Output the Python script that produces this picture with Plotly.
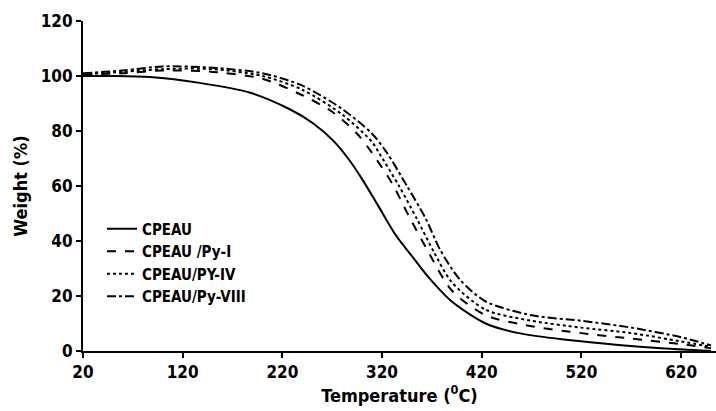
import plotly.graph_objects as go

# Temperature (°C) sample points
temp_cpeau = [20, 50, 87, 137, 187, 227, 250, 271, 288, 300, 315, 334, 350, 365, 390, 424, 457, 507, 557, 600, 650]
w_cpeau = [100, 100, 99.6, 97.5, 94, 88, 83, 76.5, 69, 62.5, 53.5, 42, 34.5, 27.5, 18, 10, 6.5, 4, 2.2, 1, 0]

temp_py1 = [20, 60, 100, 150, 200, 240, 270, 295, 310, 330, 347, 365, 390, 424, 470, 520, 570, 620, 650]
w_py1 = [100.5, 101, 102, 101.5, 99, 93, 87, 79, 72, 61, 49, 37, 22, 13, 9, 6.5, 4.5, 2.5, 1]

temp_py4 = [20, 60, 100, 150, 200, 240, 280, 310, 317, 337, 355, 372, 390, 424, 470, 520, 570, 620, 650]
w_py4 = [100.5, 101.5, 102.5, 102.5, 100, 95, 86, 76, 72, 60, 48, 36, 25, 15, 11, 8.5, 6.5, 3.5, 1.5]

temp_py8 = [20, 60, 100, 150, 200, 240, 280, 310, 325, 345, 364, 378, 398, 424, 470, 520, 570, 620, 650]
w_py8 = [101, 102, 103.5, 103, 101, 96.5, 88, 79, 72, 60, 48, 37, 26, 18, 13, 11, 8.5, 5, 2]

series_names = ["CPEAU", "CPEAU /Py-I", "CPEAU/PY-IV", "CPEAU/Py-VIII"]
x_ticks = [20, 120, 220, 320, 420, 520, 620]
y_ticks = [0, 20, 40, 60, 80, 100, 120]

FONT = "DejaVu Sans Condensed, Liberation Sans Narrow, Arial Narrow, Liberation Sans, sans-serif"

fig = go.Figure()
styles = ["solid", "dash", "dot", "dashdot"]
data = [(temp_cpeau, w_cpeau), (temp_py1, w_py1), (temp_py4, w_py4), (temp_py8, w_py8)]
for (xs, ys), name, dash in zip(data, series_names, styles):
    fig.add_trace(go.Scatter(
        x=xs, y=ys, mode="lines", name=name,
        line=dict(color="black", width=2, dash=dash, shape="spline", smoothing=0.8),
    ))

fig.update_layout(
    width=716, height=411,
    margin=dict(l=83, r=0, t=21, b=60),
    paper_bgcolor="white", plot_bgcolor="white",
    font=dict(family=FONT, color="black", size=15, weight="bold"),
    showlegend=True,
    legend=dict(
        x=0.03, y=0.42, xanchor="left", yanchor="top",
        bgcolor="rgba(0,0,0,0)", font=dict(size=15, family=FONT, weight="bold"),
        tracegroupgap=0,
    ),
    xaxis=dict(
        range=[20, 655], tickvals=x_ticks, ticktext=[str(v) for v in x_ticks],
        showline=True, linecolor="black", linewidth=2, ticks="outside", ticklen=5,
        tickwidth=2, tickcolor="black", showgrid=False, zeroline=False,
        tickfont=dict(size=17, family=FONT, weight="bold"),
        title=dict(text="Temperature (<sup>0</sup>C)", font=dict(size=18, family=FONT, weight="bold"), standoff=4),
    ),
    yaxis=dict(
        range=[0, 120], tickvals=y_ticks, ticktext=[str(v) for v in y_ticks],
        showline=True, linecolor="black", linewidth=2, ticks="outside", ticklen=5,
        tickwidth=2, tickcolor="black", showgrid=False, zeroline=False,
        tickfont=dict(size=17, family=FONT, weight="bold"),
        title=dict(text="Weight (%)", font=dict(size=18, family=FONT, weight="bold"), standoff=8),
    ),
)

fig.write_html("out.html")
